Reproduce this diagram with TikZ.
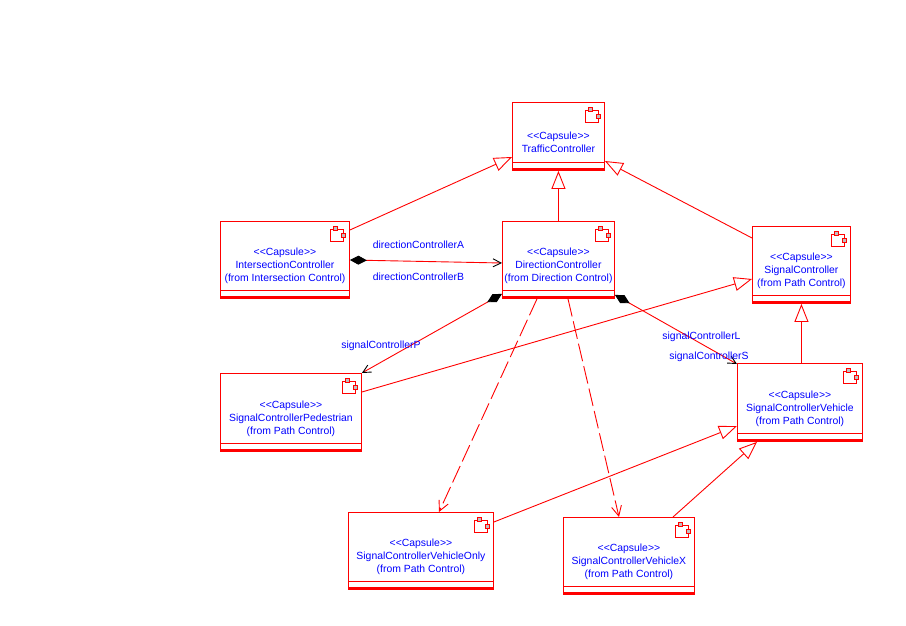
\documentclass[tikz,border=0pt]{standalone}
\usepackage{fontspec}
\setmainfont{Liberation Sans}
\usetikzlibrary{arrows.meta}
\definecolor{umlred}{HTML}{FF0000}
\definecolor{umlblue}{HTML}{0000FF}
\definecolor{iconfill}{HTML}{C0C0C0}
\newcommand\stereo[1]{<\kern0pt<#1>\kern0pt>}

\begin{document}
\begin{tikzpicture}[x=1pt,y=-1pt,line width=0.9pt,
			every node/.style={font=\fontsize{10.4}{13}\selectfont},
			capsule/.style={draw=umlred,fill=white,anchor=north west,inner sep=0pt,
				path picture={
					\draw[umlred] ([yshift=8.5pt]path picture bounding box.south west) -- ([yshift=8.5pt]path picture bounding box.south east);
					\draw[umlred] ([yshift=2.5pt]path picture bounding box.south west) -- ([yshift=2.5pt]path picture bounding box.south east);
					\draw[umlred,line width=2pt] (path picture bounding box.south west) -- (path picture bounding box.south east);
					\draw[umlred,fill=white] ([shift={(-19pt,-8pt)}]path picture bounding box.north east) rectangle ([shift={(-6pt,-20pt)}]path picture bounding box.north east);
					\draw[umlred,fill=iconfill] ([shift={(-16pt,-5pt)}]path picture bounding box.north east) rectangle ([shift={(-12pt,-9pt)}]path picture bounding box.north east);
					\draw[umlred,fill=iconfill] ([shift={(-8pt,-12pt)}]path picture bounding box.north east) rectangle ([shift={(-4pt,-16pt)}]path picture bounding box.north east);}},
			capsuletext/.style={text=umlblue,align=center,yshift=-6pt},
			rolename/.style={text=umlblue},
			gen/.style={draw=umlred,-{Triangle[length=18pt,width=14pt,fill=white]}},
			assoc/.style={draw=umlred,{Diamond[black,length=17pt,width=9pt]}-{Straight Barb[black,length=8pt,width=8pt]}},
			dep/.style={draw=umlred,dash pattern=on 18pt off 5pt,-{Straight Barb[length=10pt,width=10pt]}}]
\useasboundingbox (0,0) rectangle (906,626);
% capsules
\node[capsule,minimum width=92pt,minimum height=68pt,
	label={[capsuletext]center:{\stereo{Capsule}\\TrafficController}}] (tc) at (512,102) {};
\node[capsule,minimum width=129pt,minimum height=77pt,
	label={[capsuletext]center:{\stereo{Capsule}\\IntersectionController\\(from Intersection Control)}}] (ic) at (220,221) {};
\node[capsule,minimum width=112pt,minimum height=77pt,
	label={[capsuletext]center:{\stereo{Capsule}\\DirectionController\\(from Direction Control)}}] (dc) at (502,221) {};
\node[capsule,minimum width=98pt,minimum height=77pt,
	label={[capsuletext]center:{\stereo{Capsule}\\SignalController\\(from Path Control)}}] (sc) at (752,226) {};
\node[capsule,minimum width=125pt,minimum height=78pt,
	label={[capsuletext]center:{\stereo{Capsule}\\SignalControllerVehicle\\(from Path Control)}}] (scv) at (737,363) {};
\node[capsule,minimum width=141pt,minimum height=78pt,
	label={[capsuletext]center:{\stereo{Capsule}\\SignalControllerPedestrian\\(from Path Control)}}] (scp) at (220,373) {};
\node[capsule,minimum width=145pt,minimum height=77pt,
	label={[capsuletext]center:{\stereo{Capsule}\\SignalControllerVehicleOnly\\(from Path Control)}}] (scvo) at (348,512) {};
\node[capsule,minimum width=131pt,minimum height=77pt,
	label={[capsuletext]center:{\stereo{Capsule}\\SignalControllerVehicleX\\(from Path Control)}}] (scvx) at (563,517) {};
% generalizations
\draw[gen] ([yshift=-9pt]ic.north east) -- ([yshift=-55pt]tc.north west);
\draw[gen] (dc.north) -- (tc.south);
\draw[gen] ([yshift=-12pt]sc.north west) -- ([yshift=-59pt]tc.north east);
\draw[gen] ([yshift=-19pt]scp.north east) -- ([yshift=-53pt]sc.north west);
\draw[gen] (scv.north -| sc.south) -- (sc.south);
\draw[gen] ([yshift=-10pt]scvo.north east) -- ([yshift=-63pt]scv.north west);
\draw[gen] ([xshift=110pt]scvx.north west) -- ([xshift=20pt]scv.south west);
% associations
\draw[assoc] ([yshift=-39pt]ic.north east) -- ([yshift=-42pt]dc.north west);
\draw[assoc] ([yshift=5pt]dc.south west) -- (scp.north east);
\draw[assoc] ([yshift=4pt]dc.south east) -- ([yshift=-1pt]scv.north west);
% dependencies
\draw[dep] ([xshift=35pt]dc.south west) -- ([xshift=91pt]scvo.north west);
\draw[dep] ([xshift=66pt]dc.south west) -- ([xshift=56pt]scvx.north west);
% role names
\node[rolename] (roleA) at (418.5,245) {directionControllerA};
\node[rolename] (roleB) at (418.5,277) {directionControllerB};
\node[rolename] (roleP) at (381,346) {signalControllerP};
\node[rolename] (roleL) at (701.5,337) {signalControllerL};
\node[rolename] (roleS) at (709,357) {signalControllerS};
\end{tikzpicture}
\end{document}
